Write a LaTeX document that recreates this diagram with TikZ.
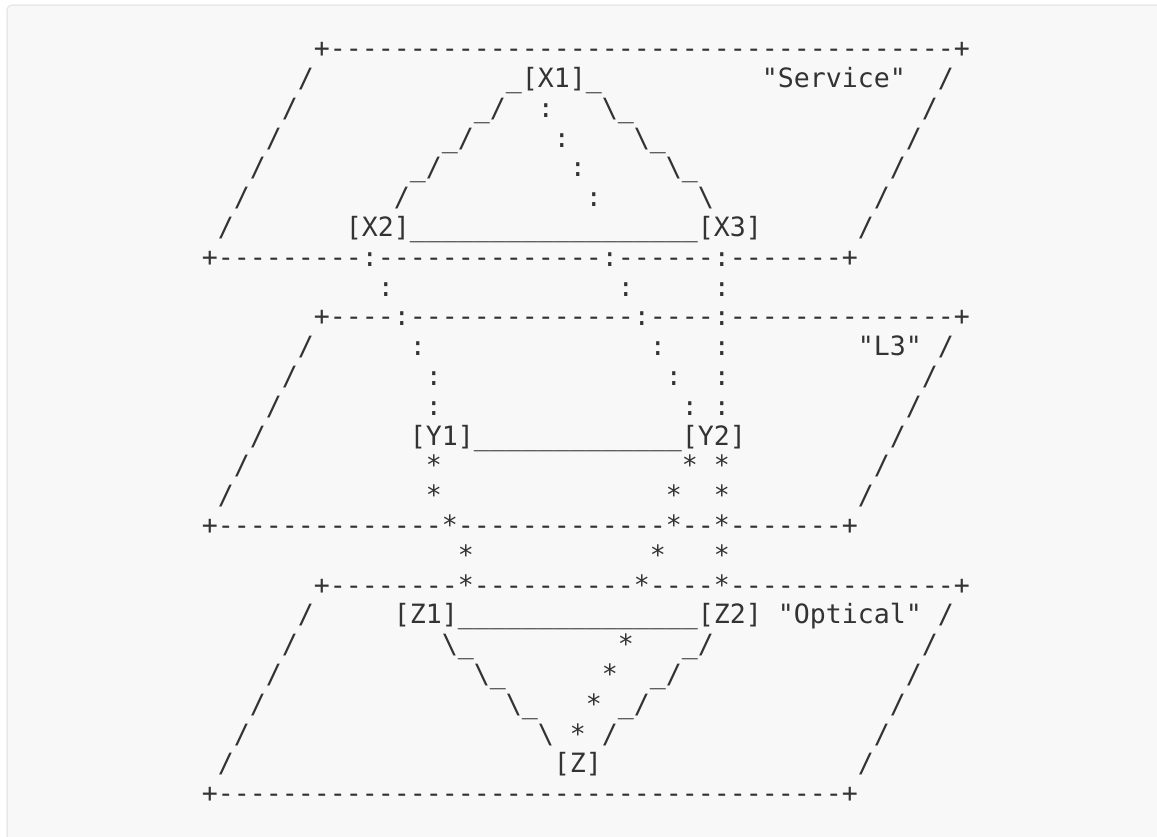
\documentclass[tikz,border=0pt]{standalone}
\usepackage{fontspec}
\setmonofont{DejaVu Sans Mono}
\ExplSyntaxOn
\newcommand\dashrun[1]{\prg_replicate:nn{#1}{-}}
\newcommand\usrun[1]{\prg_replicate:nn{#1}{\textunderscore}}
\ExplSyntaxOff
\definecolor{txtc}{HTML}{333333}
\definecolor{boxfill}{HTML}{F8F8F8}
\definecolor{boxline}{HTML}{E8E8E8}
\tikzset{ch/.style={anchor=base west, inner sep=0pt, outer sep=0pt, text=txtc,
  font=\ttfamily\fontsize{26.58}{30}\selectfont}}
\newcommand\tx[3]{\node[ch] (r#1c#2) at ({201.8+16*#2},{57.7+29.8*(#1-1)}) {#3};}
\begin{document}
\begin{tikzpicture}[x=1pt,y=-1pt]
\useasboundingbox (0,0) rectangle (1157,836);
\clip (0,0) rectangle (1157,836);
\fill[white] (0,0) rectangle (1157,836);
\draw[boxline, fill=boxfill, line width=1.5pt, rounded corners=5pt] (7,5) rectangle (1180,860);
\tx{1}{7}{+\dashrun{39}+}
\tx{2}{6}{/}\tx{2}{19}{\_[X1]\_}\tx{2}{35}{"Service"}\tx{2}{46}{/}
\tx{3}{5}{/}\tx{3}{17}{\_/}\tx{3}{21}{:}\tx{3}{25}{\textbackslash\_}\tx{3}{45}{/}
\tx{4}{4}{/}\tx{4}{15}{\_/}\tx{4}{22}{:}\tx{4}{27}{\textbackslash\_}\tx{4}{44}{/}
\tx{5}{3}{/}\tx{5}{13}{\_/}\tx{5}{23}{:}\tx{5}{29}{\textbackslash\_}\tx{5}{43}{/}
\tx{6}{2}{/}\tx{6}{12}{/}\tx{6}{24}{:}\tx{6}{31}{\textbackslash}\tx{6}{42}{/}
\tx{7}{1}{/}\tx{7}{9}{[X2]\usrun{18}[X3]}\tx{7}{41}{/}
\tx{8}{0}{+\dashrun{9}:\dashrun{14}:\dashrun{6}:\dashrun{7}+}
\tx{9}{11}{:}\tx{9}{26}{:}\tx{9}{32}{:}
\tx{10}{7}{+\dashrun{4}:\dashrun{14}:\dashrun{4}:\dashrun{14}+}
\tx{11}{6}{/}\tx{11}{13}{:}\tx{11}{28}{:}\tx{11}{32}{:}\tx{11}{41}{"L3"}\tx{11}{46}{/}
\tx{12}{5}{/}\tx{12}{14}{:}\tx{12}{29}{:}\tx{12}{32}{:}\tx{12}{45}{/}
\tx{13}{4}{/}\tx{13}{14}{:}\tx{13}{30}{:}\tx{13}{32}{:}\tx{13}{44}{/}
\tx{14}{3}{/}\tx{14}{13}{[Y1]\usrun{13}[Y2]}\tx{14}{43}{/}
\tx{15}{2}{/}\tx{15}{14}{*}\tx{15}{30}{*}\tx{15}{32}{*}\tx{15}{42}{/}
\tx{16}{1}{/}\tx{16}{14}{*}\tx{16}{29}{*}\tx{16}{32}{*}\tx{16}{41}{/}
\tx{17}{0}{+\dashrun{14}*\dashrun{13}*\dashrun{2}*\dashrun{7}+}
\tx{18}{16}{*}\tx{18}{28}{*}\tx{18}{32}{*}
\tx{19}{7}{+\dashrun{8}*\dashrun{10}*\dashrun{4}*\dashrun{14}+}
\tx{20}{6}{/}\tx{20}{12}{[Z1]\usrun{15}[Z2]}\tx{20}{36}{"Optical"}\tx{20}{46}{/}
\tx{21}{5}{/}\tx{21}{15}{\textbackslash\_}\tx{21}{26}{*}\tx{21}{30}{\_/}\tx{21}{45}{/}
\tx{22}{4}{/}\tx{22}{17}{\textbackslash\_}\tx{22}{25}{*}\tx{22}{28}{\_/}\tx{22}{44}{/}
\tx{23}{3}{/}\tx{23}{19}{\textbackslash\_}\tx{23}{24}{*}\tx{23}{26}{\_/}\tx{23}{43}{/}
\tx{24}{2}{/}\tx{24}{21}{\textbackslash}\tx{24}{23}{*}\tx{24}{25}{/}\tx{24}{42}{/}
\tx{25}{1}{/}\tx{25}{22}{[Z]}\tx{25}{41}{/}
\tx{26}{0}{+\dashrun{39}+}
\end{tikzpicture}
\end{document}
